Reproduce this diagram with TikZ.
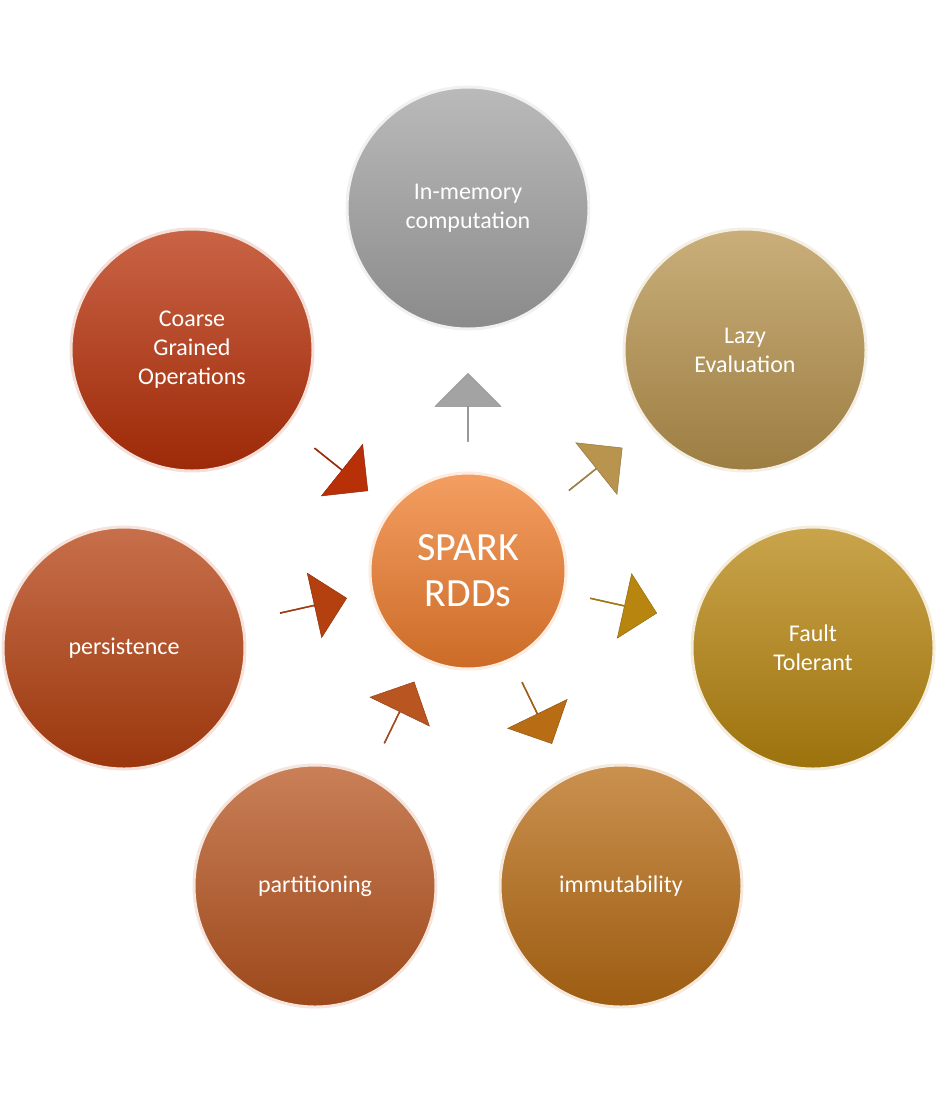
\documentclass[tikz,border=0pt]{standalone}
\usepackage{fontspec}
\setmainfont{Carlito}
\usetikzlibrary{shapes.arrows}
\definecolor{cgray}{HTML}{A3A3A3}
\definecolor{clazy}{HTML}{B8944E}
\definecolor{cfault}{HTML}{B8860F}
\definecolor{cimm}{HTML}{B86C14}
\definecolor{cpart}{HTML}{B85520}
\definecolor{cpers}{HTML}{B5400F}
\definecolor{ccoarse}{HTML}{B83008}
\definecolor{ccenter}{HTML}{F07E2E}
\tikzset{
  bub/.style={circle, minimum size=242pt, inner sep=0pt, draw=white!85!#1, line width=3pt,
    top color=#1!75!white, bottom color=#1!85!black, text=white, font=\fontsize{24}{29}\selectfont, align=center},
  arr/.style={single arrow, minimum height=68pt, minimum width=66pt, single arrow head extend=15pt,
    inner sep=0pt, fill=#1, draw=#1!80!black, line width=0.5pt, sloped}
}
\begin{document}
\begin{tikzpicture}[x=1pt,y=-1pt]
\useasboundingbox (0,0) rectangle (938,1106);
\node[bub=ccenter, minimum size=196pt, font=\fontsize{40}{46}\selectfont] (c) at (468,571) {SPARK\\RDDs};
\node[bub=cgray] (mem) at (468,208) {In-memory\\computation};
\node[bub=clazy] (lazy) at (745,350) {Lazy\\Evaluation};
\node[bub=cfault] (fault) at (813,648) {Fault\\Tolerant};
\node[bub=cimm] (imm) at (621,886) {immutability};
\node[bub=cpart] (part) at (315,886) {partitioning};
\node[bub=cpers] (pers) at (124,648) {persistence};
\node[bub=ccoarse] (coarse) at (192,350) {Coarse\\Grained\\Operations};
\path (c.center) -- (mem.center) node[arr=cgray, pos=0.45] (a1) {};
\path (c.center) -- (lazy.center) node[arr=clazy, pos=0.46] (a2) {};
\path (c.center) -- (fault.center) node[arr=cfault, pos=0.45] (a3) {};
\path (c.center) -- (imm.center) node[arr=cimm, pos=0.45] (a4) {};
\path (c.center) -- (part.center) node[arr=cpart, pos=0.45] (a5) {};
\path (c.center) -- (pers.center) node[arr=cpers, pos=0.45] (a6) {};
\path (c.center) -- (coarse.center) node[arr=ccoarse, pos=0.46] (a7) {};
\end{tikzpicture}
\end{document}
